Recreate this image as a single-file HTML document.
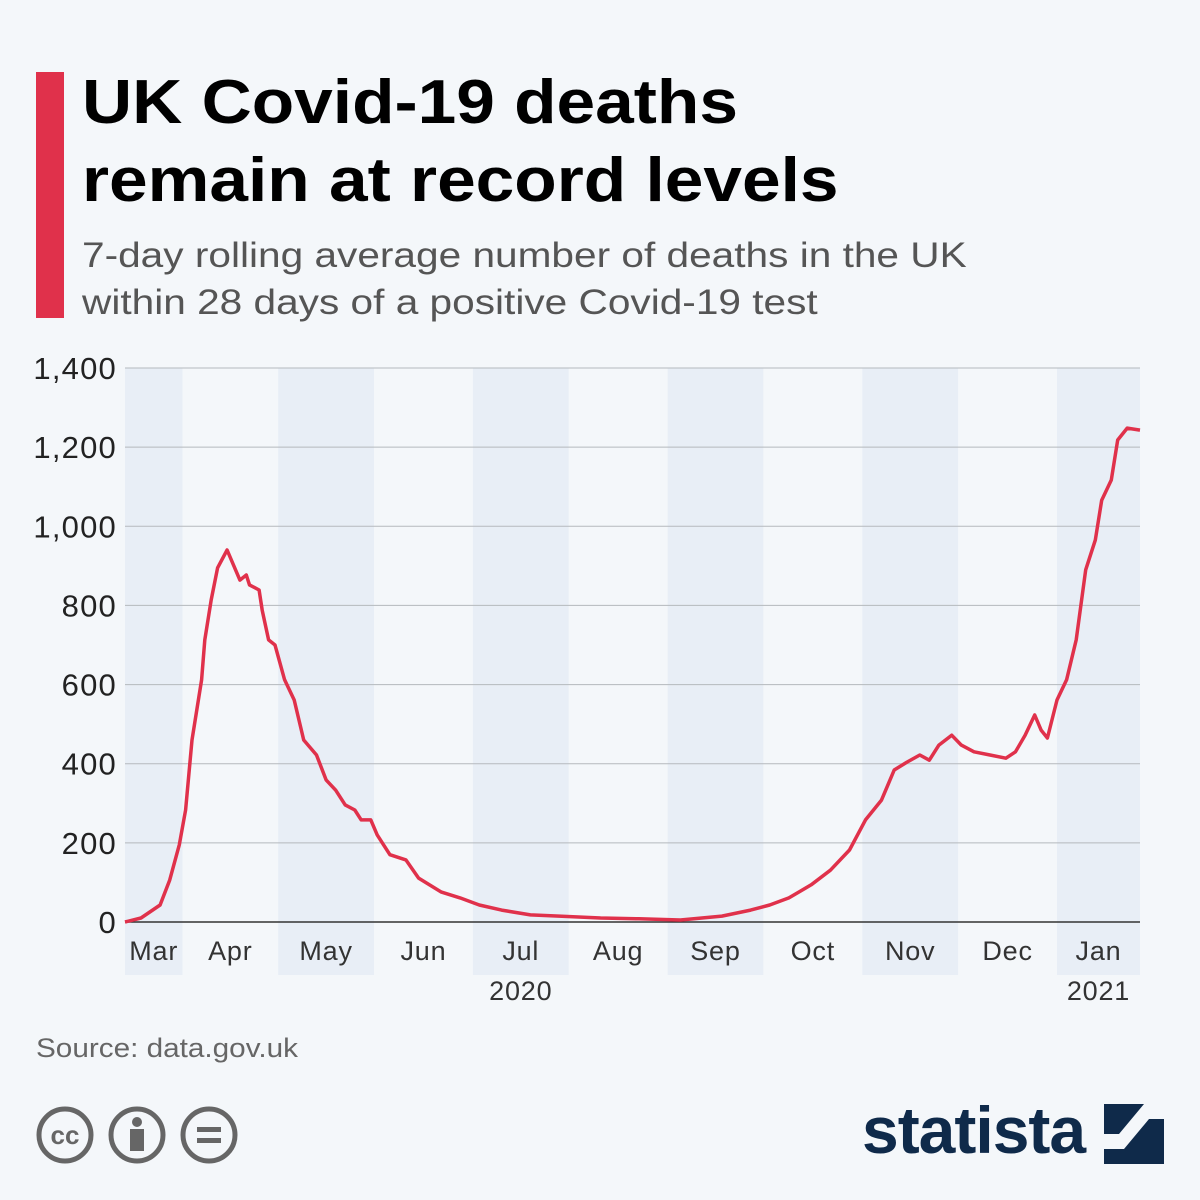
<!DOCTYPE html>
<html><head><meta charset="utf-8"><style>
body{margin:0;width:1200px;height:1200px;background:#f4f7fa;font-family:"Liberation Sans",sans-serif;overflow:hidden;position:relative}
.sx{transform-origin:0 0;white-space:nowrap}
</style></head><body>
<div style="position:absolute;left:36px;top:72px;width:28px;height:246px;background:#e0314b"></div>
<div class="sx" style="position:absolute;left:82px;top:64px;font-size:62px;font-weight:bold;line-height:78px;color:#000;transform:scaleX(1.12)">UK Covid-19 deaths<br>remain at record levels</div>
<div class="sx" style="position:absolute;left:82px;top:232px;font-size:35px;line-height:47px;color:#555;transform:scaleX(1.16)">7-day rolling average number of deaths in the UK<br>within 28 days of a positive Covid-19 test</div>
<svg id="chart" width="1200" height="1200" style="position:absolute;left:0;top:0"></svg>
<div class="sx" style="position:absolute;left:36px;top:1033px;font-size:27px;color:#666;transform:scaleX(1.1)">Source: data.gov.uk</div>
<svg width="260" height="70" style="position:absolute;left:34px;top:1100px">
<g fill="none" stroke="#666" stroke-width="5"><circle cx="31" cy="35" r="26"/><circle cx="103" cy="35" r="26"/><circle cx="175" cy="35" r="26"/></g>
<text x="31" y="44" font-size="26" font-weight="bold" fill="#666" text-anchor="middle" font-family="Liberation Sans">cc</text>
<circle cx="103" cy="22" r="5" fill="#666"/><rect x="96" y="29" width="14" height="22" fill="#666"/>
<rect x="163" y="27" width="24" height="5" fill="#666"/><rect x="163" y="38" width="24" height="5" fill="#666"/>
</svg>
<div style="position:absolute;left:862px;top:1092px;font-size:66px;font-weight:bold;color:#0f2a4a;letter-spacing:-1px">statista</div>
<svg width="60" height="60" style="position:absolute;left:1104px;top:1104px">
<rect width="60" height="60" fill="#0f2a4a"/><path d="M0 45 L20 45 L45 15 L60 15 L60 0 L40 0 L15 30 L0 30Z" fill="#f4f7fa"/></svg>
<script>
const days=[0,5,11,14,17,19,21,24,25,27,29,32,34,36,38,39,42,43,45,47,50,53,56,60,63,66,69,72,74,77,79,83,88,92,99,105,111,118,127,136,149,161,174,187,196,202,208,215,221,227,232,237,241,245,249,252,255,259,262,266,271,276,279,282,285,287,289,292,295,298,301,304,306,309,311,314,318];
const deaths=[0,10,43,106,195,283,460,612,713,814,895,940,902,864,877,852,839,788,713,700,612,561,460,422,359,333,296,283,258,258,220,170,157,111,76,61,43,30,18,15,10,8,5,15,30,43,61,94,131,182,258,308,384,404,422,409,447,472,447,430,422,414,430,472,523,485,465,561,612,713,890,965,1066,1117,1218,1248,1243];
const months=["Mar","Apr","May","Jun","Jul","Aug","Sep","Oct","Nov","Dec","Jan"];
const monthStart=[0,18,48,78,109,139,170,200,231,261,292,318];
const yTicks=[0,200,400,600,800,1000,1200,1400];
const years=[["2020",4],["2021",10]];
const X0=125,X1=1140,Y0=922,Y1=368,DMAX=318,VMAX=1400;
const x=d=>X0+d*(X1-X0)/DMAX, y=v=>Y0-v*(Y0-Y1)/VMAX;
const svg=document.getElementById('chart'),NS='http://www.w3.org/2000/svg';
function mk(t,a,txt){const e=document.createElementNS(NS,t);for(const k in a)e.setAttribute(k,a[k]);if(txt!=null)e.textContent=txt;svg.appendChild(e);return e;}
months.forEach((m,i)=>{
 if(i%2==0){const r=mk('rect',{x:x(monthStart[i]),y:Y1,width:x(monthStart[i+1])-x(monthStart[i]),height:975-Y1,fill:'#e8eef6'});
 
 }
 const t=mk('text',{x:(x(monthStart[i])+x(monthStart[i+1]))/2,y:960,'font-size':27,'letter-spacing':0.8,fill:'#333','text-anchor':'middle','font-family':'Liberation Sans'},m);
 
 
});
years.forEach(([yr,i])=>{const t=mk('text',{x:(x(monthStart[i])+x(monthStart[i+1]))/2,y:1000,'font-size':27,'letter-spacing':0.8,fill:'#333','text-anchor':'middle','font-family':'Liberation Sans'},yr);
 
 });
yTicks.forEach(v=>{
 const l=mk('line',{x1:X0,x2:X1,y1:y(v),y2:y(v),stroke:v==0?'#333':'#b5b9bd','stroke-width':v==0?1.5:1});
 
 
 const t=mk('text',{x:117,y:y(v)+11,'font-size':31,'letter-spacing':1.2,fill:'#222','text-anchor':'end','font-family':'Liberation Sans'},v.toLocaleString('en-US'));
 
 
});
const p=mk('path',{d:days.map((d,i)=>(i?'L':'M')+x(d).toFixed(1)+' '+y(deaths[i]).toFixed(1)).join(''),fill:'none',stroke:'#e0314b','stroke-width':3.5,'stroke-linejoin':'round'});


</script>
</body></html>
